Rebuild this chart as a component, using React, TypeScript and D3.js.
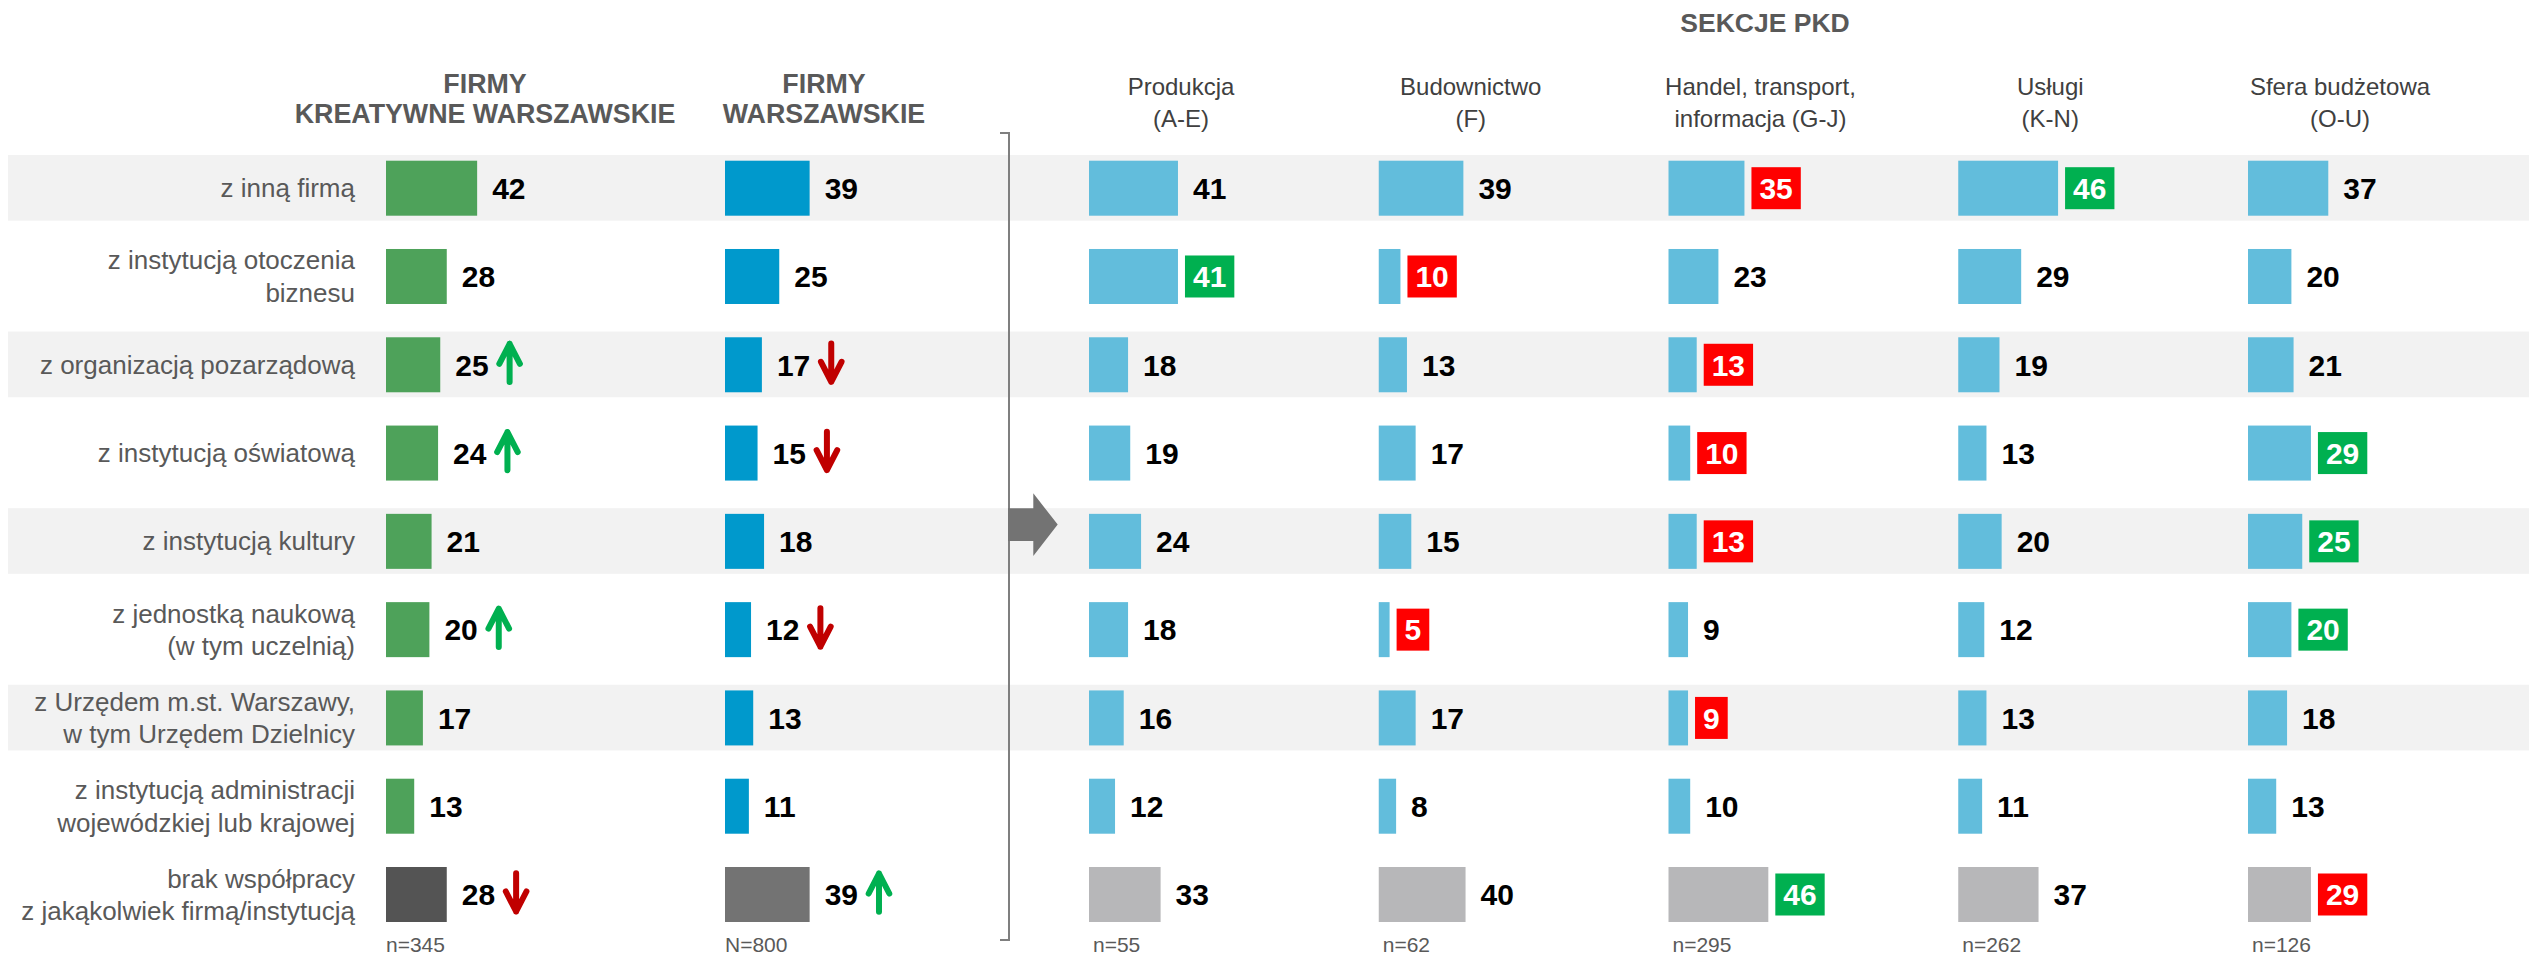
import React from 'react';
import * as d3 from 'd3';

const categories = [
  'z inną firmą',
  'z instytucją otoczenia\nbiznesu',
  'z organizacją pozarządową',
  'z instytucją oświatową',
  'z instytucją kultury',
  'z jednostką naukową\n(w tym uczelnią)',
  'z Urzędem m.st. Warszawy,\nw tym Urzędem Dzielnicy',
  'z instytucją administracji\nwojewódzkiej lub krajowej',
  'brak współpracy\nz jakąkolwiek firmą/instytucją',
];

const groupTitles = ['FIRMY\nKREATYWNE WARSZAWSKIE', 'FIRMY\nWARSZAWSKIE'];
const kreatywne = [42, 28, 25, 24, 21, 20, 17, 13, 28];
const warszawskie = [39, 25, 17, 15, 18, 12, 13, 11, 39];
const trendKreatywne = ['', '', 'up', 'up', '', 'up', '', '', 'down'];
const trendWarszawskie = ['', '', 'down', 'down', '', 'down', '', '', 'up'];
const groupN = ['n=345', 'N=800'];

const sectionsTitle = 'SEKCJE PKD';
const sections = [
  'Produkcja\n(A-E)',
  'Budownictwo\n(F)',
  'Handel, transport,\ninformacja (G-J)',
  'Usługi\n(K-N)',
  'Sfera budżetowa\n(O-U)',
];
const produkcja = [41, 41, 18, 19, 24, 18, 16, 12, 33];
const budownictwo = [39, 10, 13, 17, 15, 5, 17, 8, 40];
const handel = [35, 23, 13, 10, 13, 9, 9, 10, 46];
const uslugi = [46, 29, 19, 13, 20, 12, 13, 11, 37];
const sfera = [37, 20, 21, 29, 25, 20, 18, 13, 29];
// 'hi' = significantly higher (green), 'lo' = significantly lower (red)
const flagsProdukcja = ['', 'hi', '', '', '', '', '', '', ''];
const flagsBudownictwo = ['', 'lo', '', '', '', 'lo', '', '', ''];
const flagsHandel = ['lo', '', 'lo', 'lo', 'lo', '', 'lo', '', 'hi'];
const flagsUslugi = ['hi', '', '', '', '', '', '', '', ''];
const flagsSfera = ['', '', '', 'hi', 'hi', 'hi', '', '', 'lo'];
const sectionN = ['n=55', 'n=62', 'n=295', 'n=262', 'n=126'];

const W = 2529;
const H = 957;
const FONT = '"Liberation Sans", Arial, Helvetica, sans-serif';
const LABEL_GRAY = '#595959';
const GREEN = '#00b050';
const RED = '#ff0000';
const DARK_RED = '#c00000';

const x = d3.scaleLinear().domain([0, 100]).range([0, 217]);
const rowY = d3
  .scalePoint<string>()
  .domain(categories)
  .range([160.7, 867]);
const BAR_H = 55;
const groupX = d3.scalePoint<string>().domain(groupTitles).range([386, 725]);
const sectionX = d3.scalePoint<string>().domain(sections).range([1089, 2248]);

const VALUE_FS = 30;
const DIGIT_W = 0.556 * VALUE_FS;

function TrendArrow({ cx, cy, dir }: { cx: number; cy: number; dir: string }) {
  const s = dir === 'up' ? 1 : -1;
  const color = dir === 'up' ? GREEN : DARK_RED;
  return (
    <g transform={`translate(${cx},${cy}) scale(1,${s})`}>
      <path
        d={`M0,19.3 L0,-19 M-10.3,1 L0,-19 L10.3,1`}
        fill="none"
        stroke={color}
        strokeWidth={6}
        strokeLinecap="round"
        strokeLinejoin="round"
      />
    </g>
  );
}

function ValueLabel({
  x0,
  cy,
  value,
  flag,
}: {
  x0: number;
  cy: number;
  value: number;
  flag: string;
}) {
  const txt = String(value);
  const tw = txt.length * DIGIT_W;
  if (flag) {
    const bw = tw + 16;
    const bx = x0 + 7;
    return (
      <g>
        <rect x={bx} y={cy - 21} width={bw} height={42} fill={flag === 'hi' ? GREEN : RED} />
        <text
          x={bx + bw / 2}
          y={cy + 10.8}
          textAnchor="middle"
          fontFamily={FONT}
          fontWeight="bold"
          fontSize={VALUE_FS}
          fill="#ffffff"
        >
          {txt}
        </text>
      </g>
    );
  }
  return (
    <text
      x={x0 + 15}
      y={cy + 10.8}
      fontFamily={FONT}
      fontWeight="bold"
      fontSize={VALUE_FS}
      fill="#000000"
    >
      {txt}
    </text>
  );
}

export default function App() {
  const groupValues = [kreatywne, warszawskie];
  const groupTrends = [trendKreatywne, trendWarszawskie];
  const groupColors = ['#4ea25a', '#0099cc'];
  const groupBrakColors = ['#545454', '#737373'];
  const sectionValues = [produkcja, budownictwo, handel, uslugi, sfera];
  const sectionFlags = [flagsProdukcja, flagsBudownictwo, flagsHandel, flagsUslugi, flagsSfera];
  const lastIdx = categories.length - 1;

  return (
    <svg
      width={W}
      height={H}
      viewBox={`0 0 ${W} ${H}`}
      style={{ position: 'absolute', left: 0, top: 0, display: 'block', background: '#ffffff' }}
    >
      {/* alternating bands */}
      {categories.map((c, i) =>
        i % 2 === 0 && i < lastIdx ? (
          <rect key={'band' + i} x={8} y={(rowY(c) as number) - 5.7} width={W - 8} height={65.7} fill="#f2f2f2" />
        ) : null
      )}

      {/* section title */}
      <text x={1765} y={32.3} textAnchor="middle" fontFamily={FONT} fontWeight="bold" fontSize={26.5} fill={LABEL_GRAY}>
        {sectionsTitle}
      </text>

      {/* group headers */}
      {groupTitles.map((g) => {
        const cx = (groupX(g) as number) + 99;
        return (
          <text key={g} textAnchor="middle" fontFamily={FONT} fontWeight="bold" fontSize={26.8} fill={LABEL_GRAY}>
            {g.split('\n').map((ln, k) => (
              <tspan key={k} x={cx} y={92.7 + k * 30.6}>
                {ln}
              </tspan>
            ))}
          </text>
        );
      })}

      {/* section headers */}
      {sections.map((s) => {
        const cx = (sectionX(s) as number) + 92;
        return (
          <text key={s} textAnchor="middle" fontFamily={FONT} fontSize={24} fill="#404040">
            {s.split('\n').map((ln, k) => (
              <tspan key={k} x={cx} y={95 + k * 31.7}>
                {ln}
              </tspan>
            ))}
          </text>
        );
      })}

      {/* category labels */}
      {categories.map((c) => {
        const cy = (rowY(c) as number) + BAR_H / 2;
        const lines = c.split('\n');
        const y0 = lines.length === 1 ? cy + 9 : cy - 7;
        return (
          <text key={'lab' + c} textAnchor="end" fontFamily={FONT} fontSize={26} fill={LABEL_GRAY}>
            {lines.map((ln, k) => (
              <tspan key={k} x={355} y={y0 + k * 32.3}>
                {ln}
              </tspan>
            ))}
          </text>
        );
      })}

      {/* group bars */}
      {groupTitles.map((g, gi) => {
        const x0 = groupX(g) as number;
        return (
          <g key={'gb' + g}>
            {categories.map((c, i) => {
              const v = groupValues[gi][i];
              const top = rowY(c) as number;
              const cy = top + BAR_H / 2;
              const wBar = x(v);
              const trend = groupTrends[gi][i];
              const textEnd = x0 + wBar + 15 + String(v).length * DIGIT_W;
              return (
                <g key={c}>
                  <rect
                    x={x0}
                    y={top}
                    width={wBar}
                    height={BAR_H}
                    fill={i === lastIdx ? groupBrakColors[gi] : groupColors[gi]}
                  />
                  <ValueLabel x0={x0 + wBar} cy={cy} value={v} flag="" />
                  {trend ? <TrendArrow cx={textEnd + 21} cy={cy - 2} dir={trend} /> : null}
                </g>
              );
            })}
            <text x={x0} y={952} fontFamily={FONT} fontSize={21} fill={LABEL_GRAY}>
              {groupN[gi]}
            </text>
          </g>
        );
      })}

      {/* section bars */}
      {sections.map((s, si) => {
        const x0 = sectionX(s) as number;
        return (
          <g key={'sb' + s}>
            {categories.map((c, i) => {
              const v = sectionValues[si][i];
              const top = rowY(c) as number;
              const cy = top + BAR_H / 2;
              const wBar = x(v);
              return (
                <g key={c}>
                  <rect x={x0} y={top} width={wBar} height={BAR_H} fill={i === lastIdx ? '#b7b7b9' : '#62bddc'} />
                  <ValueLabel x0={x0 + wBar} cy={cy} value={v} flag={sectionFlags[si][i]} />
                </g>
              );
            })}
            <text x={x0 + 4} y={952} fontFamily={FONT} fontSize={21} fill={LABEL_GRAY}>
              {sectionN[si]}
            </text>
          </g>
        );
      })}

      {/* bracket */}
      <path d="M1000,133 L1009,133 L1009,940 L1000,940" fill="none" stroke="#7f7f7f" strokeWidth={2} />
      {/* big arrow */}
      <polygon
        points="1008,508.3 1033.3,508.3 1033.3,493.3 1057.7,524.6 1033.3,556 1033.3,541 1008,541"
        fill="#737373"
      />
    </svg>
  );
}
